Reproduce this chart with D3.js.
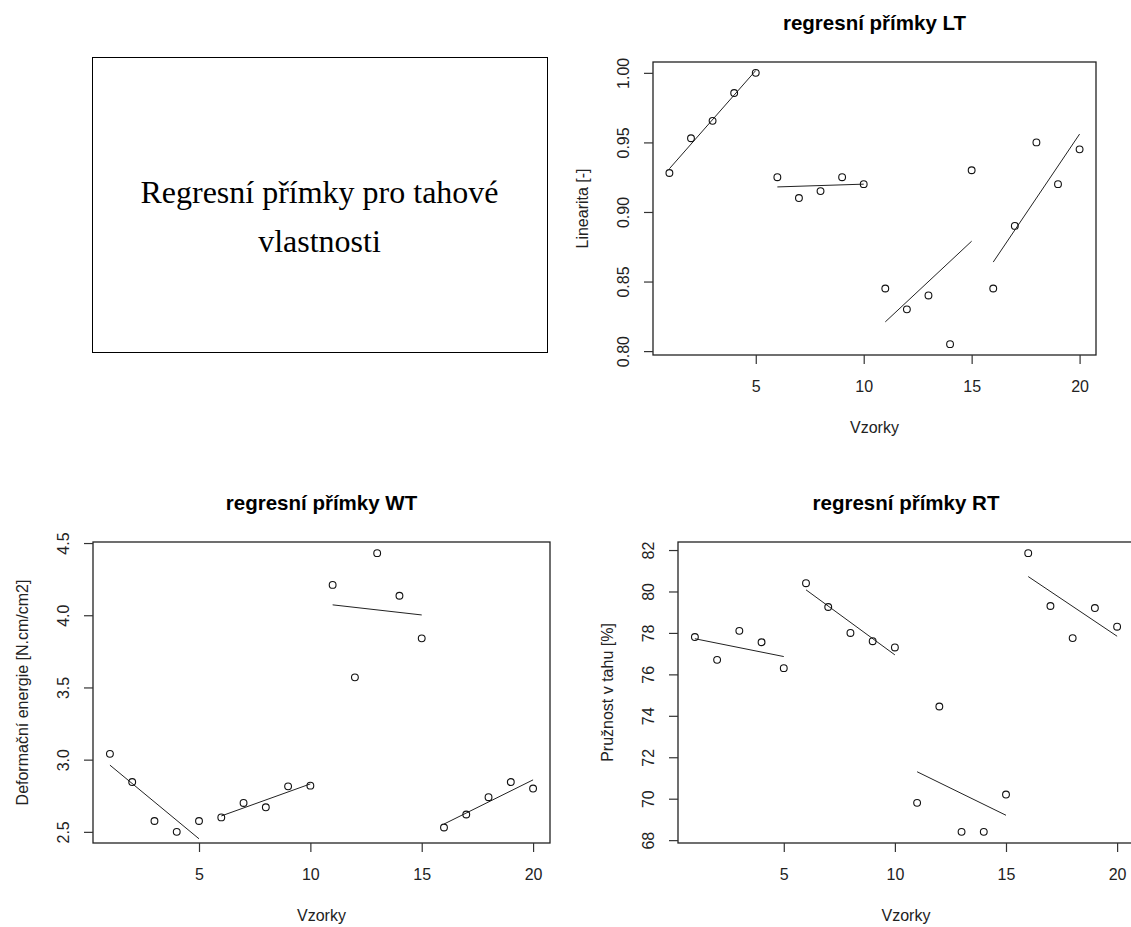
<!DOCTYPE html>
<html><head><meta charset="utf-8">
<script src="https://cdn.jsdelivr.net/npm/d3@7"></script>
<style>body{margin:0;background:#fff}svg{display:block}</style>
</head><body><svg id="c" width="1131" height="927"></svg>
<script>
// ---- data ----
const vzorky = [1,2,3,4,5,6,7,8,9,10,11,12,13,14,15,16,17,18,19,20];
const skupina = [1,1,1,1,1,2,2,2,2,2,3,3,3,3,3,4,4,4,4,4];
const linearita = [0.928,0.953,0.9655,0.9855,1.000,0.925,0.910,0.915,0.925,0.920,0.845,0.830,0.840,0.805,0.930,0.845,0.890,0.950,0.920,0.945];
const deformacniEnergie = [3.04,2.845,2.575,2.50,2.575,2.60,2.70,2.67,2.815,2.82,4.21,3.57,4.43,4.135,3.84,2.53,2.62,2.74,2.845,2.80];
const pruznost = [77.8,76.7,78.1,77.55,76.3,80.4,79.25,78.0,77.6,77.3,69.8,74.45,68.4,68.4,70.2,81.85,79.3,77.75,79.2,78.3];
const xTicks = [5,10,15,20];
const ltTicks = [0.80,0.85,0.90,0.95,1.00];
const wtTicks = [2.5,3.0,3.5,4.0,4.5];
const rtTicks = [68,70,72,74,76,78,80,82];
const titulek = ["Regresní přímky pro tahové","vlastnosti"];

const svg = d3.select("#c");
svg.append("rect").attr("width",1131).attr("height",927).attr("fill","#fff");

// ---- text box ----
const tb = {x0:92, y0:57, x1:547, y1:352};
svg.append("rect").attr("x",tb.x0+0.5).attr("y",tb.y0+0.5)
  .attr("width",tb.x1-tb.x0).attr("height",tb.y1-tb.y0)
  .attr("fill","none").attr("stroke","#000").attr("stroke-width",1);
svg.append("g").selectAll("text").data(titulek).join("text")
  .attr("x",(tb.x0+tb.x1)/2).attr("y",(d,i)=>203+i*49)
  .attr("text-anchor","middle")
  .attr("font-family","'Liberation Serif','Times New Roman',serif")
  .attr("font-size",32).attr("fill","#000").text(d=>d);

// ---- panels ----
const panels = [
  {title:"regresní přímky LT", ylab:"Linearita [-]", values:linearita, ticks:ltTicks, fmt:d3.format(".2f"),
   box:{x0:653,x1:1096,y0:62,y1:355}},
  {title:"regresní přímky WT", ylab:"Deformační energie [N.cm/cm2]", values:deformacniEnergie, ticks:wtTicks, fmt:d3.format(".1f"),
   box:{x0:93,x1:550,y0:542,y1:843}},
  {title:"regresní přímky RT", ylab:"Pružnost v tahu [%]", values:pruznost, ticks:rtTicks, fmt:d3.format("d"),
   box:{x0:678,x1:1134,y0:542,y1:843}}
];

const font = "'Liberation Sans',Arial,sans-serif";

function rExtent(arr){
  const [a,b] = d3.extent(arr); const p = (b-a)*0.04; return [a-p,b+p];
}

function fit(xs, ys){
  const mx = d3.mean(xs), my = d3.mean(ys);
  let sxy=0, sxx=0;
  xs.forEach((x,i)=>{ sxy += (x-mx)*(ys[i]-my); sxx += (x-mx)*(x-mx); });
  const b = sxy/sxx, a = my - b*mx;
  return {a,b,x0:d3.min(xs),x1:d3.max(xs)};
}

panels.forEach(p=>{
  const B = p.box;
  const g = svg.append("g");
  const x = d3.scaleLinear().domain(rExtent(vzorky)).range([B.x0,B.x1]);
  const y = d3.scaleLinear().domain(rExtent(p.values)).range([B.y1,B.y0]);

  // title
  g.append("text").attr("x",(B.x0+B.x1)/2).attr("y",B.y0-39.5)
    .attr("text-anchor","middle").attr("dominant-baseline","central")
    .attr("font-family",font).attr("font-weight","bold").attr("font-size",20.5)
    .attr("fill","#000").text(p.title);

  // box
  g.append("rect").attr("x",B.x0).attr("y",B.y0).attr("width",B.x1-B.x0).attr("height",B.y1-B.y0)
    .attr("fill","none").attr("stroke","#222").attr("stroke-width",1.3);

  // x axis
  const xa = d3.axisBottom(x).tickValues(xTicks).tickSize(9).tickPadding(0).tickFormat(d3.format("d"));
  const gx = g.append("g").attr("transform",`translate(0,${B.y1})`).call(xa);
  gx.select(".domain").remove();
  gx.selectAll(".tick line").attr("stroke","#333").attr("stroke-width",1.2);
  gx.selectAll(".tick text").attr("y",31.5).attr("dy",null).attr("dominant-baseline","central")
    .attr("font-family",font).attr("font-size",16).attr("fill","#222");

  // y axis
  const ya = d3.axisLeft(y).tickValues(p.ticks).tickSize(9).tickPadding(0).tickFormat(p.fmt);
  const gy = g.append("g").attr("transform",`translate(${B.x0},0)`).call(ya);
  gy.select(".domain").remove();
  gy.selectAll(".tick line").attr("stroke","#333").attr("stroke-width",1.2);
  gy.selectAll(".tick text").attr("x",null).attr("dy",null)
    .attr("transform","translate(-30,0) rotate(-90)")
    .attr("text-anchor","middle").attr("dominant-baseline","central")
    .attr("font-family",font).attr("font-size",16).attr("fill","#222");

  // axis titles
  g.append("text").attr("x",(B.x0+B.x1)/2).attr("y",B.y1+72)
    .attr("text-anchor","middle").attr("dominant-baseline","central")
    .attr("font-family",font).attr("font-size",16).attr("fill","#222").text("Vzorky");
  g.append("text")
    .attr("transform",`translate(${B.x0-71},${(B.y0+B.y1)/2}) rotate(-90)`)
    .attr("text-anchor","middle").attr("dominant-baseline","central")
    .attr("font-family",font).attr("font-size",16).attr("fill","#222").text(p.ylab);

  // regression lines per group
  const groups = d3.groups(vzorky.map((v,i)=>({x:v,y:p.values[i],s:skupina[i]})), d=>d.s);
  const fits = groups.map(([k,arr])=>fit(arr.map(d=>d.x), arr.map(d=>d.y)));
  g.append("g").selectAll("line").data(fits).join("line")
    .attr("x1",f=>x(f.x0)).attr("y1",f=>y(f.a+f.b*f.x0))
    .attr("x2",f=>x(f.x1)).attr("y2",f=>y(f.a+f.b*f.x1))
    .attr("stroke","#222").attr("stroke-width",1);

  // points
  g.append("g").selectAll("circle").data(vzorky).join("circle")
    .attr("cx",(d)=>x(d)).attr("cy",(d,i)=>y(p.values[i])).attr("r",3.4)
    .attr("fill","none").attr("stroke","#111").attr("stroke-width",1.1);
});
</script></body></html>
